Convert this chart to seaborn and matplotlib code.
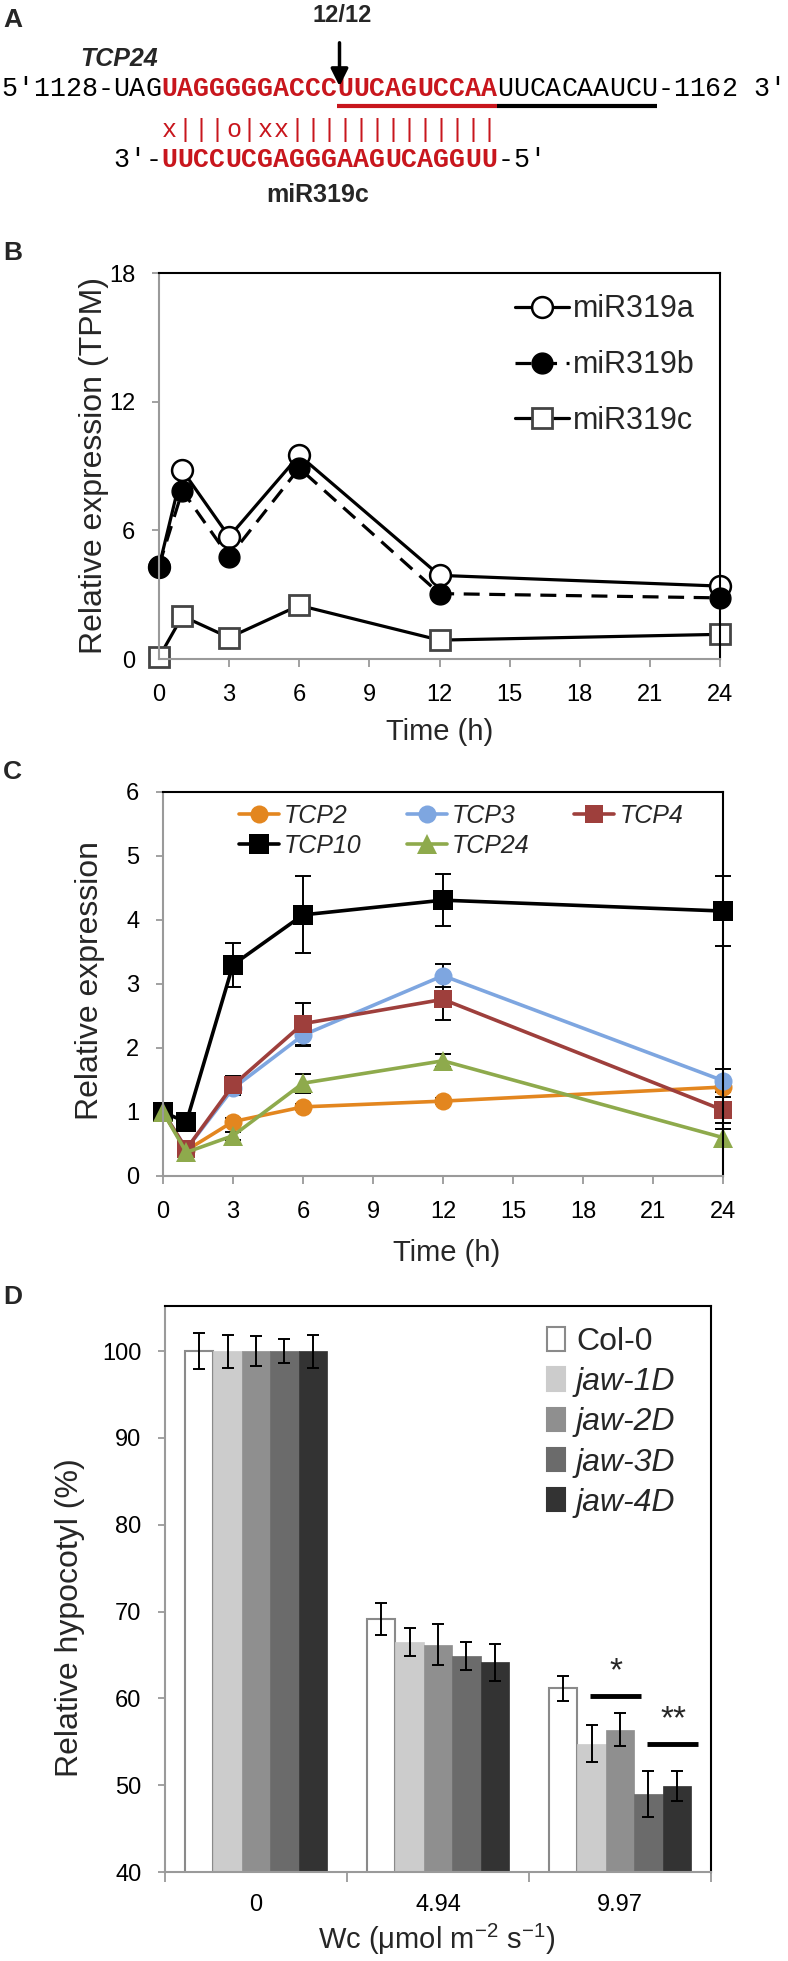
import numpy as np
import pandas as pd
import matplotlib
matplotlib.use("Agg")
import matplotlib.pyplot as plt
import matplotlib.patches as mpatches
import seaborn as sns

# ---------------- data ----------------
SEQ_SEGMENTS = ["5′1128-UAG", "UAGGGGGACCC", "UUCAGUCCAA", "UUCACAAUCU", "-1162 3′"]
PAIRING = "x|||o|xx|||||||||||||"
MIR_SEGMENTS = ["3′-", "UUCCUCGAGGGAAGUCAGGUU", "-5′"]
GENE_LABEL = "TCP24"
MIR_LABEL = "miR319c"
CLEAVAGE_LABEL = "12/12"

TIME = [0, 1, 3, 6, 12, 24]
TIME_TICKS = [0, 3, 6, 9, 12, 15, 18, 21, 24]

MIR_NAMES = ["miR319a", "miR319b", "miR319c"]
MIR319A = [4.3, 8.8, 5.7, 9.5, 3.9, 3.4]
MIR319B = [4.35, 7.85, 4.75, 8.9, 3.05, 2.85]
MIR319C = [0.08, 2.0, 1.0, 2.5, 0.88, 1.15]
B_TICKS = [0, 6, 12, 18]

TCP_NAMES = ["TCP2", "TCP3", "TCP4", "TCP10", "TCP24"]
TCP2 = [1.0, 0.40, 0.85, 1.08, 1.17, 1.39]
TCP3 = [1.0, 0.42, 1.37, 2.20, 3.13, 1.49]
TCP4 = [1.0, 0.42, 1.42, 2.38, 2.76, 1.03]
TCP10 = [1.0, 0.84, 3.30, 4.08, 4.31, 4.14]
TCP24 = [1.0, 0.37, 0.63, 1.45, 1.80, 0.60]
TCP2_ERR = [0.0, 0.0, 0.05, 0.05, 0.05, 0.08]
TCP3_ERR = [0.0, 0.0, 0.08, 0.17, 0.18, 0.18]
TCP4_ERR = [0.0, 0.0, 0.15, 0.33, 0.32, 0.20]
TCP10_ERR = [0.0, 0.0, 0.34, 0.60, 0.41, 0.54]
TCP24_ERR = [0.0, 0.0, 0.06, 0.15, 0.10, 0.13]
C_TICKS = [0, 1, 2, 3, 4, 5, 6]

LIGHT = ["0", "4.94", "9.97"]
GENOTYPES = ["Col-0", "jaw-1D", "jaw-2D", "jaw-3D", "jaw-4D"]
COL0 = [100, 69.1, 61.15]
JAW1D = [100, 66.5, 54.8]
JAW2D = [100, 66.2, 56.4]
JAW3D = [100, 64.9, 48.95]
JAW4D = [100, 64.15, 49.9]
COL0_ERR = [2.1, 1.85, 1.4]
JAW1D_ERR = [1.9, 1.6, 2.1]
JAW2D_ERR = [1.7, 2.4, 1.9]
JAW3D_ERR = [1.4, 1.6, 2.65]
JAW4D_ERR = [1.9, 2.1, 1.7]
D_TICKS = [40, 50, 60, 70, 80, 90, 100]
SIG_LABELS = ["*", "**"]
SIG_PAIRS = [(1, 2), (3, 4)]
SIG_LEVELS = [60.3, 54.7]

# ---------------- style ----------------
sns.set_theme(style="white")
SANS = "Liberation Sans"
MONO = ["Liberation Mono", "DejaVu Sans Mono"]
plt.rcParams["font.family"] = [SANS, "DejaVu Sans"]
plt.rcParams["mathtext.fontset"] = "custom"
plt.rcParams["mathtext.rm"] = SANS
plt.rcParams["mathtext.it"] = SANS + ":italic"
plt.rcParams["mathtext.bf"] = SANS + ":bold"

RED = "#C8161D"
GRAY = "#9a9a9a"
W, H = 788, 1961
fig = plt.figure(figsize=(W / 100, H / 100), dpi=100)


def box(l, t, r, b):
    return [l / W, 1 - b / H, (r - l) / W, (b - t) / H]


def style_axes(ax):
    for s in ["left", "bottom"]:
        ax.spines[s].set_color(GRAY)
        ax.spines[s].set_linewidth(1.5)
    for s in ["top", "right"]:
        ax.spines[s].set_color("black")
        ax.spines[s].set_linewidth(1.5)
        ax.spines[s].set_visible(True)
    ax.tick_params(axis="both", which="both", bottom=True, left=True, direction="out",
                   color=GRAY, width=1.3, labelsize=17, labelcolor="black")
    ax.tick_params(axis="y", length=5, pad=12)
    ax.tick_params(axis="x", length=6, pad=12)
    ax.grid(False)


# ---------------- panel labels ----------------
for lab, y in [("A", 20), ("B", 253), ("C", 772), ("D", 1297)]:
    fig.text(3 / W, 1 - y / H, lab, fontsize=19, fontweight="bold", va="center", ha="left")

# ---------------- panel A ----------------
axA = fig.add_axes([0, 1 - 210 / H, 1, 210 / H])
axA.set_xlim(0, W)
axA.set_ylim(210, 0)
axA.axis("off")
CW, X0 = 16.0, 1.5


def put_chars(s, start, y, color, weight, size=19.2):
    for k, ch in enumerate(s):
        if ch == " ":
            continue
        axA.text(X0 + (start + k + 0.5) * CW, y, ch, ha="center", va="center",
                 color=color, fontweight=weight, family=MONO, fontsize=size)


seq_styles = [("black", "normal"), (RED, "bold"), (RED, "bold"), ("black", "normal"), ("black", "normal")]
idx = 0
seg_starts = []
for seg, (c, w) in zip(SEQ_SEGMENTS, seq_styles):
    seg_starts.append(idx)
    put_chars(seg, idx, 89, c, w)
    idx += len(seg)

# underlines
u1s, u1e = seg_starts[2], seg_starts[2] + len(SEQ_SEGMENTS[2])
u2s, u2e = seg_starts[3], seg_starts[3] + len(SEQ_SEGMENTS[3])
axA.plot([X0 + u1s * CW, X0 + u1e * CW], [106, 106], color=RED, lw=3.0, solid_capstyle="butt")
axA.plot([X0 + u2s * CW, X0 + u2e * CW], [106, 106], color="black", lw=3.0, solid_capstyle="butt")

put_chars(PAIRING, seg_starts[1], 130, RED, "normal", size=18)
mir_styles = [("black", "normal"), (RED, "bold"), ("black", "normal")]
midx = seg_starts[1] - len(MIR_SEGMENTS[0])
for seg, (c, w) in zip(MIR_SEGMENTS, mir_styles):
    put_chars(seg, midx, 160, c, w)
    midx += len(seg)

ax_arrow_x = X0 + seg_starts[2] * CW + 2
axA.annotate("", xy=(ax_arrow_x, 89), xytext=(ax_arrow_x, 40),
             arrowprops=dict(arrowstyle="-|>", color="black", lw=2.5, mutation_scale=26))
axA.text(ax_arrow_x + 3, 15, CLEAVAGE_LABEL, ha="center", va="center", fontsize=17, fontweight="bold")
axA.text(80, 59, GENE_LABEL, ha="left", va="center", fontsize=18, fontweight="bold", fontstyle="italic")
axA.text(318, 195, MIR_LABEL, ha="center", va="center", fontsize=18, fontweight="bold")

# ---------------- panel B ----------------
axB = fig.add_axes(box(159, 273, 720, 659))
sns.lineplot(x=TIME, y=MIR319A, ax=axB, color="black", lw=2.3, marker="o", ms=15,
             markerfacecolor="white", mec="black", mew=1.8, label=MIR_NAMES[0])
sns.lineplot(x=TIME, y=MIR319B, ax=axB, color="black", lw=2.3, linestyle=(0, (5, 3)), marker="o", ms=15,
             markerfacecolor="black", mec="black", mew=1.0, label=MIR_NAMES[1])
sns.lineplot(x=TIME, y=MIR319C, ax=axB, color="black", lw=2.3, marker="s", ms=15,
             markerfacecolor="white", mec="#444444", mew=2.0, label=MIR_NAMES[2])
for ln in axB.lines:
    ln.set_clip_on(False)
axB.set_xlim(0, 24)
axB.set_ylim(0, 18)
axB.set_xticks(TIME_TICKS)
axB.set_yticks(B_TICKS)
style_axes(axB)
axB.set_xlabel("Time (h)", fontsize=21, va="center")
axB.xaxis.set_label_coords(0.5, -0.19)
axB.set_ylabel("Relative expression (TPM)", fontsize=23, va="center")
axB.yaxis.set_label_coords(-0.116, 0.5)
legB = axB.legend(loc="upper left", bbox_to_anchor=(0.635, 0.945), frameon=False, fontsize=22,
                  handlelength=1.75, handletextpad=0.15, labelspacing=0.85, borderaxespad=0, borderpad=0)

# ---------------- panel C ----------------
axC = fig.add_axes(box(163, 792, 723, 1176))
tcp_vals = [TCP2, TCP3, TCP4, TCP10, TCP24]
tcp_errs = [TCP2_ERR, TCP3_ERR, TCP4_ERR, TCP10_ERR, TCP24_ERR]
tcp_colors = ["#E3861F", "#7EA6E0", "#9E3F3C", "#000000", "#8EAA4C"]
tcp_markers = ["o", "o", "s", "s", "^"]
tcp_ms = [13, 13, 13, 14, 14]
for name, vals, err, col, mk, ms in zip(TCP_NAMES, tcp_vals, tcp_errs, tcp_colors, tcp_markers, tcp_ms):
    axC.errorbar(TIME, vals, yerr=err, fmt="none", ecolor="black", elinewidth=1.4,
                 capsize=6, capthick=1.4, zorder=1, clip_on=False)
    sns.lineplot(x=TIME, y=vals, ax=axC, color=col, lw=2.6, marker=mk, ms=ms,
                 mec=col, mew=0, label=name, zorder=2)
for ln in axC.lines:
    ln.set_clip_on(False)
axC.set_xlim(0, 24)
axC.set_ylim(0, 6)
axC.set_xticks(TIME_TICKS)
axC.set_yticks(C_TICKS)
style_axes(axC)
axC.set_xlabel("Time (h)", fontsize=21, va="center")
axC.xaxis.set_label_coords(0.507, -0.2)
axC.set_ylabel("Relative expression", fontsize=23, va="center")
axC.yaxis.set_label_coords(-0.13, 0.508)
h, l = axC.get_legend_handles_labels()
order = [0, 3, 1, 4, 2]
axC.legend([h[i] for i in order], [l[i] for i in order], ncol=3, loc="upper left",
           bbox_to_anchor=(0.136, 0.97), frameon=False, prop=dict(family=SANS, style="italic", size=18),
           handlelength=1.6, handletextpad=0.2, columnspacing=1.8, labelspacing=0.25,
           borderaxespad=0, borderpad=0)

# ---------------- panel D ----------------
axD = fig.add_axes(box(165, 1306, 711, 1872))
vals_by_g = [COL0, JAW1D, JAW2D, JAW3D, JAW4D]
errs_by_g = [COL0_ERR, JAW1D_ERR, JAW2D_ERR, JAW3D_ERR, JAW4D_ERR]
df = pd.DataFrame({
    "light": [lt for g in GENOTYPES for lt in LIGHT],
    "genotype": [g for g in GENOTYPES for _ in LIGHT],
    "value": [v for vals in vals_by_g for v in vals],
})
d_colors = ["#ffffff", "#cccccc", "#8f8f8f", "#6b6b6b", "#333333"]
d_edges = ["#8a8a8a", "#cccccc", "#8f8f8f", "#6b6b6b", "#333333"]
sns.barplot(data=df, x="light", y="value", hue="genotype", order=LIGHT, hue_order=GENOTYPES,
            palette=d_colors, width=0.78, errorbar=None, ax=axD, legend=False)
centers = {}
for gi, (cont, ec, errs, vals) in enumerate(zip(axD.containers, d_edges, errs_by_g, vals_by_g)):
    xs = []
    for bar in cont:
        bar.set_edgecolor(ec)
        bar.set_linewidth(1.5 if gi == 0 else 0.5)
        xs.append(bar.get_x() + bar.get_width() / 2)
    centers[gi] = (xs, cont[0].get_width())
    axD.errorbar(xs, vals, yerr=errs, fmt="none", ecolor="black", elinewidth=1.4,
                 capsize=4, capthick=1.4, zorder=3)
axD.set_ylim(40, 105.2)
axD.set_yticks(D_TICKS)
style_axes(axD)
axD.tick_params(axis="x", which="major", length=0, pad=16)
axD.set_xticks([-0.5, 0.5, 1.5, 2.5], minor=True)
axD.tick_params(axis="x", which="minor", length=7, color=GRAY, width=1.3)
axD.set_xlim(-0.5, 2.5)
axD.set_xlabel("Wc (μmol m$^{-2}$ s$^{-1}$)", fontsize=21, va="center")
axD.xaxis.set_label_coords(0.498, -0.119)
axD.set_ylabel("Relative hypocotyl (%)", fontsize=23, va="center")
axD.yaxis.set_label_coords(-0.174, 0.45)
# significance marks
for lab, (ga, gb), lev in zip(SIG_LABELS, SIG_PAIRS, SIG_LEVELS):
    xa = centers[ga][0][2]
    xb = centers[gb][0][2] + 0.75 * centers[gb][1]
    axD.plot([xa - 0.05 * centers[ga][1], xb], [lev, lev], color="black", lw=3.5, solid_capstyle="butt")
    axD.text((xa + xb) / 2, lev + 1.0, lab, ha="center", va="bottom", fontsize=24)
d_handles = [mpatches.Patch(facecolor=fc, edgecolor=ec, linewidth=1.5) for fc, ec in zip(d_colors, d_edges)]
legD = axD.legend(d_handles, GENOTYPES, loc="upper left", bbox_to_anchor=(0.70, 0.963), frameon=False,
                  fontsize=23, handlelength=0.55, handleheight=0.75, handletextpad=0.35,
                  labelspacing=0.32, borderaxespad=0, borderpad=0)
for t in legD.get_texts()[1:]:
    t.set_fontstyle("italic")

fig.savefig("out.png", dpi=100)
